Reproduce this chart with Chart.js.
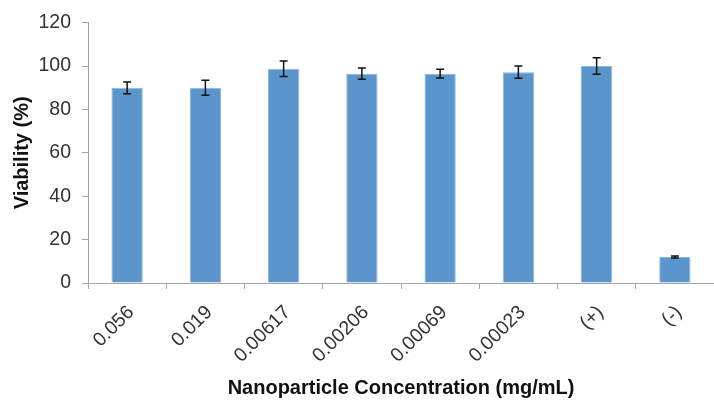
<!DOCTYPE html>
<html>
<head>
<meta charset="utf-8">
<script src="https://cdn.jsdelivr.net/npm/chart.js@4"></script>
<style>
  html, body { margin: 0; padding: 0; background: #fff; overflow: hidden; }
  #wrap { width: 714px; height: 400px; position: relative; }
</style>
</head>
<body>
<div id="wrap"><canvas id="c"></canvas></div>
<script>
const categories = ['0.056', '0.019', '0.00617', '0.00206', '0.00069', '0.00023', '(+)', '(-)'];
const viability = [90, 90, 98.8, 96.5, 96.5, 97.2, 100, 12];
const errors = [2.7, 3.5, 3.6, 2.6, 2.0, 2.8, 3.8, 0.5];
const yTicks = [0, 20, 40, 60, 80, 100, 120];

const FONT = "'Liberation Sans', Arial, sans-serif";

const errorBarPlugin = {
  id: 'errorBars',
  afterDatasetsDraw(chart) {
    const { ctx, scales: { x, y } } = chart;
    ctx.save();
    ctx.strokeStyle = '#111';
    ctx.lineWidth = 1.5;
    viability.forEach((v, i) => {
      const px = x.getPixelForValue(i);
      const top = y.getPixelForValue(v + errors[i]);
      const bot = y.getPixelForValue(v - errors[i]);
      const cap = 4;
      ctx.beginPath();
      ctx.moveTo(px, top); ctx.lineTo(px, bot);
      ctx.moveTo(px - cap, top); ctx.lineTo(px + cap, top);
      ctx.moveTo(px - cap, bot); ctx.lineTo(px + cap, bot);
      ctx.stroke();
    });
    ctx.restore();
  }
};

new Chart(document.getElementById('c'), {
  type: 'bar',
  data: {
    labels: categories,
    datasets: [{
      data: viability,
      backgroundColor: '#5b95cb',
      borderColor: '#8fb6df',
      borderWidth: 1,
      categoryPercentage: 1,
      barPercentage: 0.4
    }]
  },
  options: {
    responsive: true,
    maintainAspectRatio: false,
    animation: false,
    layout: { padding: { top: 20, right: 0, left: 0, bottom: 0 } },
    plugins: { legend: { display: false }, tooltip: { enabled: false } },
    scales: {
      x: {
        grid: { display: true, offset: true, drawOnChartArea: false, drawTicks: true, tickLength: 6, color: '#a6a6a6' },
        border: { display: true, color: '#a6a6a6', width: 1 },
        ticks: {
          autoSkip: false, minRotation: 45, maxRotation: 45, padding: 12, labelOffset: 4,
          color: '#333', font: { family: FONT, size: 19.5 }
        },
        title: {
          display: true, text: 'Nanoparticle Concentration (mg/mL)', color: '#111',
          font: { family: FONT, size: 20, weight: 'bold' }, padding: { top: 4, bottom: 0 }
        },
        afterFit(scale) { scale.height = 117; }
      },
      y: {
        min: 0, max: 120,
        afterBuildTicks(scale) { scale.ticks = yTicks.map(v => ({ value: v })); },
        grid: { display: true, drawOnChartArea: false, drawTicks: true, tickLength: 6, color: '#a6a6a6' },
        border: { display: true, color: '#a6a6a6', width: 1 },
        ticks: { padding: 11, color: '#333', font: { family: FONT, size: 19.5 } },
        title: {
          display: true, text: 'Viability (%)', color: '#111',
          font: { family: FONT, size: 20, weight: 'bold' }, padding: { top: 10, bottom: 0 }
        },
        afterFit(scale) { scale.width = 88; }
      }
    }
  },
  plugins: [errorBarPlugin]
});
</script>
</body>
</html>
